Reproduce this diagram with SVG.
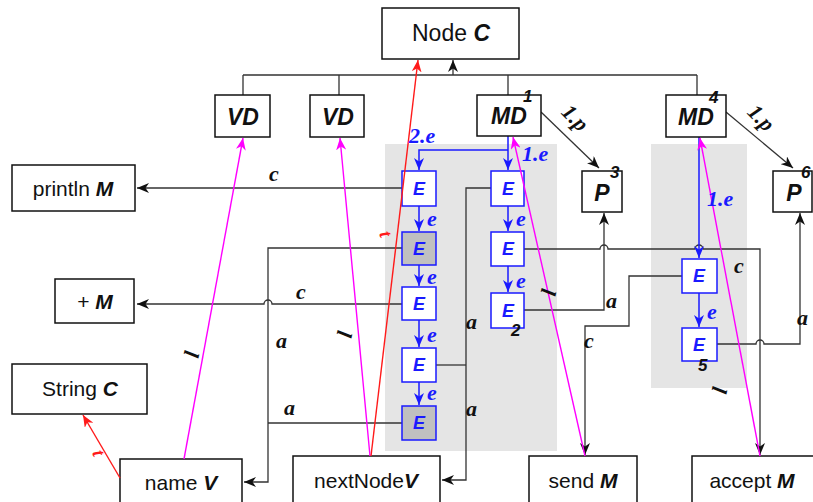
<svg xmlns="http://www.w3.org/2000/svg" width="813" height="502" viewBox="0 0 813 502">
  <style>
    .box { fill: #fff; stroke: #111; stroke-width: 1.5; }
    .eb { fill: #fff; stroke: #1a1aff; stroke-width: 1.5; }
    .eg { fill: #c0c0c0; stroke: #1a1aff; stroke-width: 1.5; }
    .panel { fill: #e5e5e5; stroke: none; }
    .nt { font-family: "Liberation Sans", Arial, sans-serif; font-size: 21px; fill: #111; text-anchor: middle; }
    .big { font-size: 23px; }
    .bi { font-weight: bold; font-style: italic; }
    .et { font-family: "Liberation Sans", Arial, sans-serif; font-size: 18px; font-weight: bold; font-style: italic; fill: #1a1aff; text-anchor: middle; }
    .num { font-family: "Liberation Sans", Arial, sans-serif; font-size: 17px; font-weight: bold; font-style: italic; fill: #111; }
    .el { font-family: "Liberation Serif", "Times New Roman", serif; font-size: 22px; font-weight: bold; font-style: italic; fill: #111; }
    .elb { font-family: "Liberation Serif", "Times New Roman", serif; font-size: 22px; font-weight: bold; font-style: italic; fill: #1a1aff; }
    .elr { font-family: "Liberation Serif", "Times New Roman", serif; font-size: 19px; font-weight: bold; font-style: italic; fill: #ff1a1a; }
    .k { fill: none; stroke: #333; stroke-width: 1.3; }
    .b { fill: none; stroke: #1a1aff; stroke-width: 1.5; }
    .m { fill: none; stroke: #ff00ff; stroke-width: 1.4; }
    .r { fill: none; stroke: #ff1a1a; stroke-width: 1.4; }
  </style>
  <defs>
    <marker id="ak" viewBox="0 0 12 10" refX="12" refY="5" markerWidth="12" markerHeight="10" markerUnits="userSpaceOnUse" orient="auto">
      <path d="M0,0 L12,5 L0,10 L3.5,5 z" fill="#111"/>
    </marker>
    <marker id="ab" viewBox="0 0 12 10" refX="12" refY="5" markerWidth="12" markerHeight="10" markerUnits="userSpaceOnUse" orient="auto">
      <path d="M0,0 L12,5 L0,10 L3.5,5 z" fill="#1a1aff"/>
    </marker>
    <marker id="am" viewBox="0 0 12 10" refX="12" refY="5" markerWidth="12" markerHeight="10" markerUnits="userSpaceOnUse" orient="auto">
      <path d="M0,0 L12,5 L0,10 L3.5,5 z" fill="#ff00ff"/>
    </marker>
    <marker id="ar" viewBox="0 0 12 10" refX="12" refY="5" markerWidth="12" markerHeight="10" markerUnits="userSpaceOnUse" orient="auto">
      <path d="M0,0 L12,5 L0,10 L3.5,5 z" fill="#ff1a1a"/>
    </marker>
  </defs>

  <!-- shaded method bodies -->
  <rect class="panel" x="385" y="144" width="172" height="307"/>
  <rect class="panel" x="651" y="144" width="96" height="244"/>

  <!-- structure and flow connectors -->
  <g id="connectors">
    <!-- declaration bus -->
    <path class="k" d="M243,75 H697 M243,75 V95 M339,75 V95 M508,75 V95 M697,75 V95"/>
    <path class="k" d="M453,75 V60" marker-end="url(#ak)"/>
    <!-- MD to P -->
    <path class="k" d="M541,112 L599,168" marker-end="url(#ak)"/>
    <path class="k" d="M726,112 L793,168" marker-end="url(#ak)"/>

    <!-- left column links -->
    <path class="k" d="M402,188 H137" marker-end="url(#ak)"/>
    <path class="k" d="M402,248 H268 V482 H244" marker-end="url(#ak)"/>
    <path class="k" d="M402,423 H268"/>
    <path class="k" d="M402,304 H272 A4,4 0 0 0 264,304 H137" marker-end="url(#ak)"/>
    <path class="k" d="M491,188 H466 V480 H442" marker-end="url(#ak)"/>
    <path class="k" d="M436,365 H466"/>

    <!-- right column links -->
    <path class="k" d="M524,249 H600 A4,4 0 0 1 608,249 H695 A4,4 0 0 1 703,249 H760 V455" marker-end="url(#ak)"/>
    <path class="k" d="M524,310 H604 V213" marker-end="url(#ak)"/>
    <path class="k" d="M682,276 H629 V326 H585 V455" marker-end="url(#ak)"/>
    <path class="k" d="M717,344 H756 A4,4 0 0 1 764,344 H800 V213" marker-end="url(#ak)"/>

    <!-- execution order (blue) -->
    <path class="b" d="M508,136 V170" marker-end="url(#ab)"/>
    <path class="b" d="M508,150 H419 V170" marker-end="url(#ab)"/>
    <path class="b" d="M419,206 V231" marker-end="url(#ab)"/>
    <path class="b" d="M419,265 V286" marker-end="url(#ab)"/>
    <path class="b" d="M419,320 V347" marker-end="url(#ab)"/>
    <path class="b" d="M419,382 V405" marker-end="url(#ab)"/>
    <path class="b" d="M508,206 V231" marker-end="url(#ab)"/>
    <path class="b" d="M508,266 V292" marker-end="url(#ab)"/>
    <path class="b" d="M699,137 V258" marker-end="url(#ab)"/>
    <path class="b" d="M699,293 V327" marker-end="url(#ab)"/>
  </g>

  <!-- nodes -->
  <g id="node-class">
    <rect class="box" x="382" y="8" width="137" height="51"/>
    <text class="nt" x="451" y="41" style="font-size:23px">Node <tspan class="bi">C</tspan></text>
  </g>
  <g id="vd-1"><rect class="box" x="215" y="95" width="55" height="42"/><text class="nt big bi" x="243" y="125">VD</text></g>
  <g id="vd-2"><rect class="box" x="310" y="95" width="54" height="42"/><text class="nt big bi" x="338" y="125">VD</text></g>
  <g id="md-1"><rect class="box" x="477" y="95" width="64" height="41"/><text class="nt big bi" x="509" y="124">MD</text><text class="num" x="523" y="102">1</text></g>
  <g id="md-4"><rect class="box" x="666" y="95" width="60" height="42"/><text class="nt big bi" x="696" y="125">MD</text><text class="num" x="709" y="103">4</text></g>
  <g id="p-3"><rect class="box" x="582" y="171" width="40" height="41"/><text class="nt big bi" x="602" y="201">P</text><text class="num" x="610" y="178">3</text></g>
  <g id="p-6"><rect class="box" x="773" y="171" width="39" height="41"/><text class="nt big bi" x="794" y="201">P</text><text class="num" x="801" y="178">6</text></g>

  <g id="println"><rect class="box" x="12" y="165" width="123" height="46"/><text class="nt" x="73" y="196">println <tspan class="bi">M</tspan></text></g>
  <g id="plus"><rect class="box" x="55" y="279" width="79" height="44"/><text class="nt" x="95" y="309">+ <tspan class="bi">M</tspan></text></g>
  <g id="string"><rect class="box" x="12" y="364" width="135" height="50"/><text class="nt" x="80" y="396">String <tspan class="bi">C</tspan></text></g>
  <g id="name"><rect class="box" x="120" y="459" width="122" height="50"/><text class="nt" x="181" y="490">name <tspan class="bi">V</tspan></text></g>
  <g id="nextnode"><rect class="box" x="293" y="456" width="147" height="52"/><text class="nt" x="366" y="488">nextNode<tspan class="bi">V</tspan></text></g>
  <g id="send"><rect class="box" x="529" y="456" width="108" height="52"/><text class="nt" x="583" y="488">send <tspan class="bi">M</tspan></text></g>
  <g id="accept"><rect class="box" x="692" y="456" width="125" height="52"/><text class="nt" x="752" y="488">accept <tspan class="bi">M</tspan></text></g>

  <!-- statement nodes -->
  <g id="e-l1"><rect class="eb" x="402" y="171" width="34" height="35"/><text class="et" x="419" y="195">E</text></g>
  <g id="e-l2"><rect class="eg" x="402" y="232" width="34" height="33"/><text class="et" x="419" y="255">E</text></g>
  <g id="e-l3"><rect class="eb" x="402" y="287" width="34" height="33"/><text class="et" x="419" y="310">E</text></g>
  <g id="e-l4"><rect class="eb" x="402" y="348" width="34" height="34"/><text class="et" x="419" y="371">E</text></g>
  <g id="e-l5"><rect class="eg" x="402" y="406" width="34" height="34"/><text class="et" x="419" y="429">E</text></g>
  <g id="e-m1"><rect class="eb" x="491" y="171" width="33" height="35"/><text class="et" x="508" y="195">E</text></g>
  <g id="e-m2"><rect class="eb" x="491" y="232" width="33" height="34"/><text class="et" x="508" y="255">E</text></g>
  <g id="e-m3"><rect class="eb" x="491" y="293" width="33" height="35"/><text class="et" x="508" y="317">E</text><text class="num" x="511" y="336">2</text></g>
  <g id="e-r1"><rect class="eb" x="682" y="259" width="35" height="34"/><text class="et" x="699" y="282">E</text></g>
  <g id="e-r2"><rect class="eb" x="682" y="328" width="35" height="33"/><text class="et" x="699" y="351">E</text><text class="num" x="698" y="371">5</text></g>

  <!-- cross-reference links drawn over the nodes -->
  <g id="links">
    <path class="m" d="M184,459 L243,138" marker-end="url(#am)"/>
    <path class="m" d="M370,456 L340,138" marker-end="url(#am)"/>
    <path class="m" d="M585,456 L513,137" marker-end="url(#am)"/>
    <path class="m" d="M760,456 L700,138" marker-end="url(#am)"/>
    <path class="r" d="M371,456 L418,60" marker-end="url(#ar)"/>
    <path class="r" d="M120,478 L83,415" marker-end="url(#ar)"/>
  </g>

  <!-- edge labels -->
  <g id="labels">
    <text class="el" x="269" y="181">c</text>
    <text class="el" x="296" y="299">c</text>
    <text class="el" x="276" y="348">a</text>
    <text class="el" x="284" y="415">a</text>
    <text class="el" x="466" y="329">a</text>
    <text class="el" x="466" y="416">a</text>
    <text class="el" x="606" y="308">a</text>
    <text class="el" x="584" y="348">c</text>
    <text class="el" x="734" y="273">c</text>
    <text class="el" x="797" y="325">a</text>
    <text class="el" transform="translate(570,123) rotate(45)" text-anchor="middle">1.p</text>
    <text class="el" transform="translate(756,123) rotate(45)" text-anchor="middle">1.p</text>
    <text class="elb" x="409" y="143">2.e</text>
    <text class="elb" x="522" y="161">1.e</text>
    <text class="elb" x="707" y="206">1.e</text>
    <text class="elb" x="427" y="226">e</text>
    <text class="elb" x="427" y="284">e</text>
    <text class="elb" x="427" y="342">e</text>
    <text class="elb" x="427" y="400">e</text>
    <text class="elb" x="516" y="226">e</text>
    <text class="elb" x="516" y="288">e</text>
    <text class="elb" x="707" y="319">e</text>
    <text class="el" transform="translate(199,356) rotate(-78)" text-anchor="middle">l</text>
    <text class="el" transform="translate(352,336) rotate(-78)" text-anchor="middle">l</text>
    <text class="el" transform="translate(556,294) rotate(-78)" text-anchor="middle">l</text>
    <text class="el" transform="translate(727,392) rotate(-78)" text-anchor="middle">l</text>
    <text class="elr" transform="translate(380,236) rotate(70)" text-anchor="middle">t</text>
    <text class="elr" transform="translate(93,455) rotate(70)" text-anchor="middle">t</text>
  </g>
</svg>
